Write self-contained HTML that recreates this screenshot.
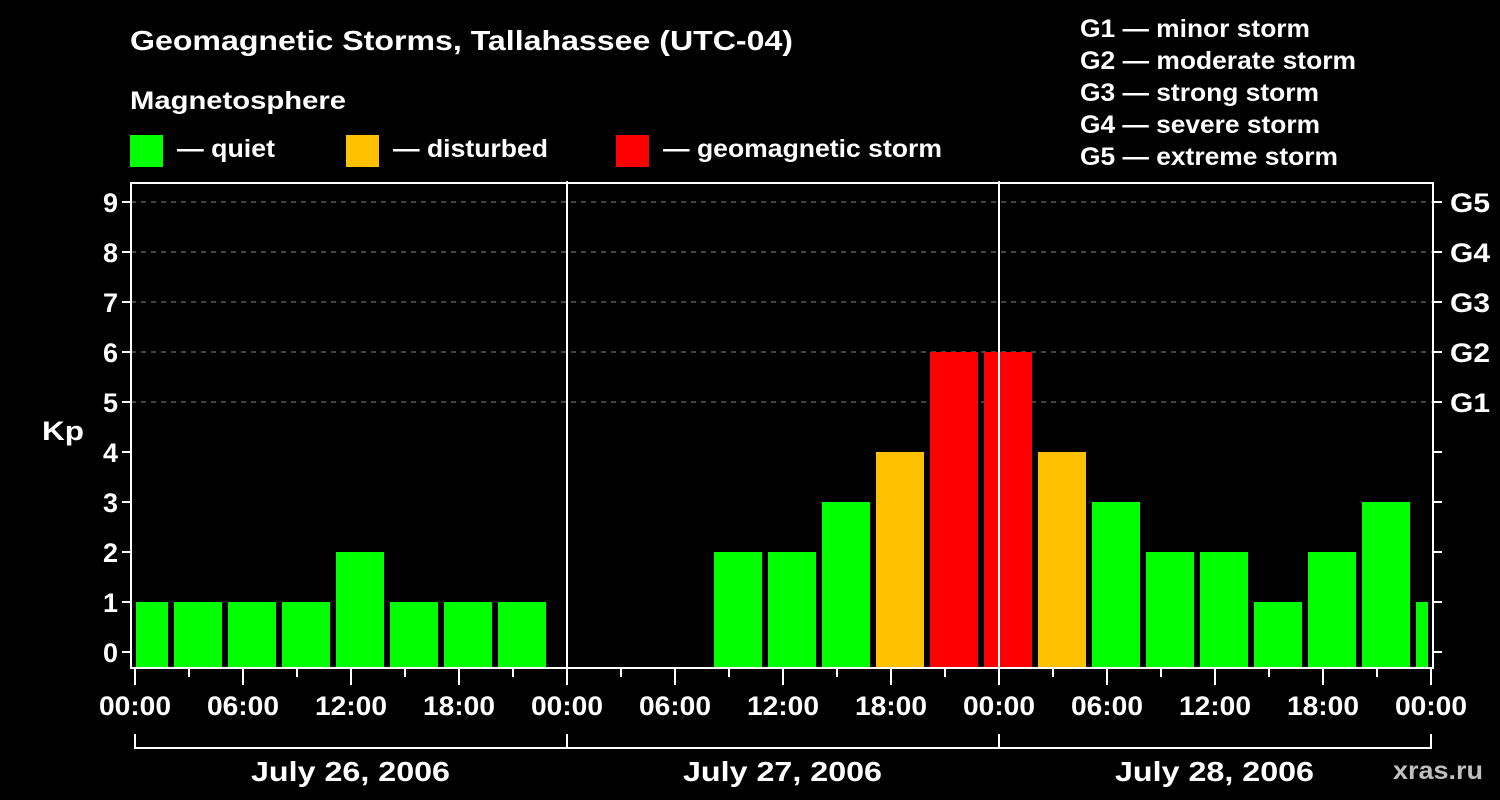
<!DOCTYPE html>
<html><head><meta charset="utf-8"><style>
html,body{margin:0;padding:0;background:#000;width:1500px;height:800px;overflow:hidden}
svg{display:block}
text{font-family:"Liberation Sans",sans-serif;font-weight:bold;fill:#fff}
</style></head><body>
<svg id="chart" width="1500" height="800">
<text x="130" y="50" font-size="28" textLength="663" lengthAdjust="spacingAndGlyphs">Geomagnetic Storms, Tallahassee (UTC-04)</text>
<text x="130" y="109" font-size="25" textLength="216" lengthAdjust="spacingAndGlyphs">Magnetosphere</text>
<g><rect x="130" y="135" width="33" height="32" fill="#00ff00"/><text x="177" y="157" font-size="25" textLength="98" lengthAdjust="spacingAndGlyphs">— quiet</text></g>
<g><rect x="346" y="135" width="33" height="32" fill="#ffc000"/><text x="393" y="157" font-size="25" textLength="155" lengthAdjust="spacingAndGlyphs">— disturbed</text></g>
<g><rect x="616" y="135" width="33" height="32" fill="#ff0000"/><text x="663" y="157" font-size="25" textLength="279" lengthAdjust="spacingAndGlyphs">— geomagnetic storm</text></g>
<g font-size="25">
<text x="1080" y="37" textLength="230" lengthAdjust="spacingAndGlyphs">G1 — minor storm</text>
<text x="1080" y="69" textLength="276" lengthAdjust="spacingAndGlyphs">G2 — moderate storm</text>
<text x="1080" y="101" textLength="239" lengthAdjust="spacingAndGlyphs">G3 — strong storm</text>
<text x="1080" y="133" textLength="240" lengthAdjust="spacingAndGlyphs">G4 — severe storm</text>
<text x="1080" y="165" textLength="258" lengthAdjust="spacingAndGlyphs">G5 — extreme storm</text>
</g>
<text x="42" y="440" font-size="27" textLength="42" lengthAdjust="spacingAndGlyphs">Kp</text>
<text x="1393" y="779" font-size="25" textLength="90" lengthAdjust="spacingAndGlyphs" style="fill:#c0c0c0">xras.ru</text>
<g id="grid"></g><g id="bars"></g><g id="axes"></g>
</svg>
<script>
const kpValues=[1,1,1,1,2,1,1,1,null,null,null,2,2,3,4,6,6,4,3,2,2,1,2,3,1];
const yTicks=[0,1,2,3,4,5,6,7,8,9];
const gLabels=["G1","G2","G3","G4","G5"];
const dayLabels=["July 26, 2006","July 27, 2006","July 28, 2006"];
const hourLabels=["00:00","06:00","12:00","18:00"];
const NS="http://www.w3.org/2000/svg";
const L=131,R=1433,T=183,B=668,X0=135,PXH=18;
const xs=h=>X0+h*PXH;
const ys=v=>652-50*v;
function mk(p,tag,a){const e=document.createElementNS(NS,tag);for(const k in a)e.setAttribute(k,a[k]);p.appendChild(e);return e;}
const grid=document.getElementById('grid'),bars=document.getElementById('bars'),axes=document.getElementById('axes');
yTicks.forEach(v=>{
 const y=ys(v);
 if(v>=5){const g=mk(grid,'line',{x1:L,x2:R,y1:y,y2:y,stroke:'#888','stroke-dasharray':'5,5','stroke-width':1});
 
 }
 const t=mk(axes,'line',{x1:L-9,x2:L,y1:y,y2:y,stroke:'#fff','stroke-width':2});
 
 
 const t2=mk(axes,'line',{x1:R,x2:R+9,y1:y,y2:y,stroke:'#fff','stroke-width':2});
 
 
 const lb=mk(axes,'text',{x:L-13,y:y+10,'font-size':27,'text-anchor':'end'});lb.textContent=v;
 
 
 if(v>=5){const gl=mk(axes,'text',{x:R+17,y:y+10,'font-size':27,textLength:40,lengthAdjust:'spacingAndGlyphs'});gl.textContent=gLabels[v-5];
 
 }
});
kpValues.forEach((v,k)=>{
 if(v===null)return;
 let x1=xs(3*k-1)+3,x2=xs(3*k+2)-3;
 x1=Math.max(x1,X0+1);x2=Math.min(x2,R-5);
 const col=v>=5?'#ff0000':(v>=4?'#ffc000':'#00ff00');
 const r=mk(bars,'rect',{x:x1,y:ys(v),width:x2-x1,height:B-1-ys(v),fill:col});
 
 
});
const fr=mk(axes,'rect',{x:L,y:T,width:R-L,height:B-T,fill:'none',stroke:'#fff','stroke-width':2});


[24,48].forEach(h=>{const d=mk(axes,'line',{x1:xs(h),x2:xs(h),y1:T-2,y2:B,stroke:'#fff','stroke-width':2});
 
 });
for(let h=0;h<=72;h+=3){
 const major=h%6===0;
 const t=mk(axes,'line',{x1:xs(h),x2:xs(h),y1:B,y2:major?685:677,stroke:'#fff','stroke-width':2});
 
 
 if(major){const lb=mk(axes,'text',{x:xs(h)-36,y:715,'font-size':27,textLength:72,lengthAdjust:'spacingAndGlyphs'});lb.textContent=hourLabels[(h/6)%4];
 
 }
}
const br=mk(axes,'line',{x1:xs(0),x2:xs(72),y1:748,y2:748,stroke:'#fff','stroke-width':2});


[0,24,48,72].forEach(h=>{const b=mk(axes,'line',{x1:xs(h),x2:xs(h),y1:734,y2:749,stroke:'#fff','stroke-width':2});
 
 });
dayLabels.forEach((d,i)=>{const t=mk(axes,'text',{x:xs(24*i+12)-100,y:781,'font-size':28,textLength:199,lengthAdjust:'spacingAndGlyphs'});t.textContent=d;
 
 });
</script>
</body></html>
